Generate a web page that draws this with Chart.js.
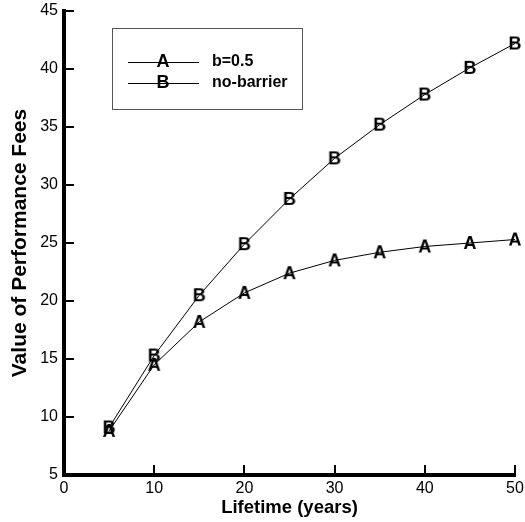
<!DOCTYPE html>
<html>
<head>
<meta charset="utf-8">
<script src="https://cdn.jsdelivr.net/npm/chart.js@4/dist/chart.umd.min.js"></script>
<style>
html,body{margin:0;padding:0;background:#fff;}
#wrap{width:525px;height:522px;}
</style>
</head>
<body>
<div id="wrap"><canvas id="c" width="525" height="522"></canvas></div>
<script>
const lifetimes = [5, 10, 15, 20, 25, 30, 35, 40, 45, 50];
const seriesA = [8.8, 14.5, 18.2, 20.7, 22.4, 23.5, 24.2, 24.7, 25.0, 25.3];
const seriesB = [9.1, 15.3, 20.5, 24.9, 28.8, 32.3, 35.2, 37.8, 40.1, 42.2];
const seriesLabels = ['b=0.5', 'no-barrier'];
const seriesLetters = ['A', 'B'];
const xTitle = 'Lifetime (years)';
const yTitle = 'Value of Performance Fees';

const FONT = '"Liberation Sans", Arial, sans-serif';

function letterCanvas(ch) {
  const cv = document.createElement('canvas');
  cv.width = 20; cv.height = 20;
  const g = cv.getContext('2d');
  g.font = 'bold 18px ' + FONT;
  g.fillStyle = '#000';
  g.textAlign = 'center';
  g.textBaseline = 'middle';
  g.fillText(ch, 10, 11);
  return cv;
}
const markers = seriesLetters.map(letterCanvas);

const tickPlugin = {
  id: 'inwardTicks',
  afterDraw(chart) {
    const ctx = chart.ctx;
    const xs = chart.scales.x, ys = chart.scales.y;
    const ca = chart.chartArea;
    ctx.save();
    ctx.strokeStyle = '#000';
    ctx.lineWidth = 2;
    ys.ticks.forEach(t => {
      const y = Math.round(ys.getPixelForValue(t.value));
      ctx.beginPath(); ctx.moveTo(ca.left, y); ctx.lineTo(ca.left + 10, y); ctx.stroke();
    });
    xs.ticks.forEach(t => {
      const x = Math.round(xs.getPixelForValue(t.value));
      ctx.beginPath(); ctx.moveTo(x, ca.bottom); ctx.lineTo(x, ca.bottom - 10); ctx.stroke();
    });
    // legend
    const bx = 112, by = 28, bw = 190, bh = 81;
    ctx.fillStyle = '#fff';
    ctx.fillRect(bx, by, bw, bh);
    ctx.lineWidth = 1;
    ctx.strokeStyle = '#555';
    ctx.strokeRect(bx + 0.5, by + 0.5, bw, bh);
    const rows = [62, 83];
    chart.data.datasets.forEach((ds, i) => {
      const y = rows[i] + 0.5;
      ctx.strokeStyle = '#000';
      ctx.beginPath(); ctx.moveTo(128, y); ctx.lineTo(199, y); ctx.stroke();
      ctx.drawImage(markers[i], 163 - 10, rows[i] - 11);
      ctx.fillStyle = '#000';
      ctx.font = 'bold 16px ' + FONT;
      ctx.textAlign = 'left';
      ctx.textBaseline = 'middle';
      ctx.fillText(ds.label, 212, rows[i]);
    });
    ctx.restore();
  }
};

new Chart(document.getElementById('c'), {
  type: 'line',
  data: {
    datasets: [
      {
        label: seriesLabels[0],
        data: lifetimes.map((x, i) => ({x, y: seriesA[i]})),
        borderColor: '#000', borderWidth: 1,
        pointStyle: markers[0], pointRadius: 9, clip: false
      },
      {
        label: seriesLabels[1],
        data: lifetimes.map((x, i) => ({x, y: seriesB[i]})),
        borderColor: '#000', borderWidth: 1,
        pointStyle: markers[1], pointRadius: 9, clip: false
      }
    ]
  },
  options: {
    responsive: false,
    animation: false,
    layout: {padding: {top: 0, right: 0, left: 0, bottom: 0}},
    plugins: {legend: {display: false}, tooltip: {enabled: false}},
    scales: {
      x: {
        type: 'linear', min: 0, max: 50,
        ticks: {stepSize: 10, color: '#000', font: {family: FONT, size: 16}, padding: 4, maxRotation: 0},
        grid: {display: true, drawOnChartArea: false, drawTicks: false},
        border: {display: true, color: '#000', width: 4},
        title: {display: true, text: xTitle, color: '#000', font: {family: FONT, size: 18.5, weight: 'bold'}, padding: {top: 0, bottom: 3}},
        afterFit(s) { s.height = 47; s.paddingLeft = 0; s.paddingRight = 8; }
      },
      y: {
        type: 'linear', min: 5, max: 45,
        ticks: {stepSize: 5, color: '#000', font: {family: FONT, size: 16}, padding: 6},
        grid: {display: true, drawOnChartArea: false, drawTicks: false},
        border: {display: true, color: '#000', width: 4},
        title: {display: true, text: yTitle, color: '#000', font: {family: FONT, size: 21, weight: 'bold'}, padding: {top: 8, bottom: 0}},
        afterFit(s) { s.width = 64; s.paddingTop = 11; s.paddingBottom = 0; }
      }
    }
  },
  plugins: [tickPlugin]
});
</script>
</body>
</html>
